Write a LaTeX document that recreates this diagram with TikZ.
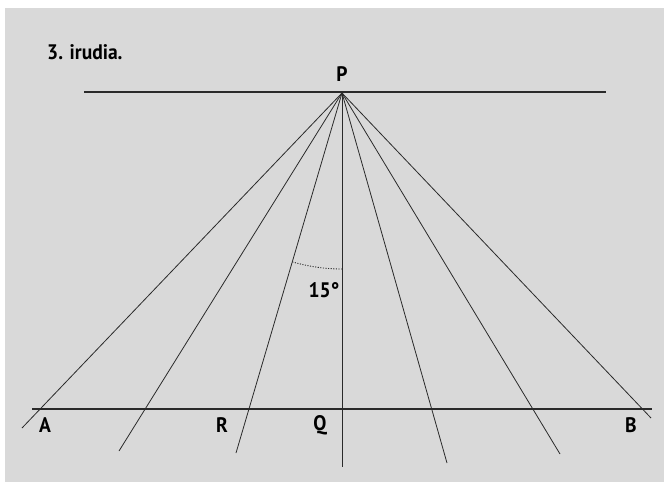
\documentclass[tikz,border=0pt]{standalone}
\usepackage{fontspec}
\setmainfont{PT Sans}
\definecolor{bgray}{HTML}{D9D9D9}
\definecolor{ink}{HTML}{2A2A2A}
\tikzset{
  ray/.style={draw=ink, line width=0.8pt},
  base/.style={draw=ink, line width=1.6pt},
  lbl/.style={font=\bfseries\fontsize{21}{22}\selectfont, inner sep=0pt, text=black, xscale=0.93},
  arcdot/.style={draw=ink, line width=0.9pt, dash pattern=on 1.1pt off 1.5pt}
}
\begin{document}
\begin{tikzpicture}[x=1pt,y=-1pt]
\useasboundingbox (0,0) rectangle (664,482);
\fill[white] (0,0) rectangle (664,482);
\fill[bgray] (5,8) rectangle (664,482);
% title
\node[lbl, anchor=west] (title) at (47,52) {3. irudia.};
% apex
\coordinate (P) at (342,93);
\coordinate (TL) at (84,92);
\coordinate (TR) at (606,92);
\coordinate (BL) at (32,409);
\coordinate (BR) at (652,409);
\draw[base] (TL) -- (TR);
\draw[base] (BL) -- (BR);
% ray ends
\coordinate (e1) at (22,428);
\coordinate (e2) at (119,451);
\coordinate (e3) at (236,453);
\coordinate (e4) at (342,467);
\coordinate (e5) at (447,463);
\coordinate (e6) at (560,454);
\coordinate (e7) at (651,418);
\foreach \e in {e1,e2,e3,e4,e5,e6,e7} \draw[ray] (P) -- (\e);
% angle arc
\draw[arcdot] ([shift={(106.4:176)}]P) arc[start angle=106.4, end angle=90, radius=176];
% labels
\node[lbl] (lP) at (342,74) {P};
\node[lbl] (l15) at (324,290) {15°};
\node[lbl] (lA) at (45,425) {A};
\node[lbl] (lR) at (222,425) {R};
\node[lbl] (lQ) at (320,425) {Q};
\node[lbl] (lB) at (631,425) {B};
\end{tikzpicture}
\end{document}
